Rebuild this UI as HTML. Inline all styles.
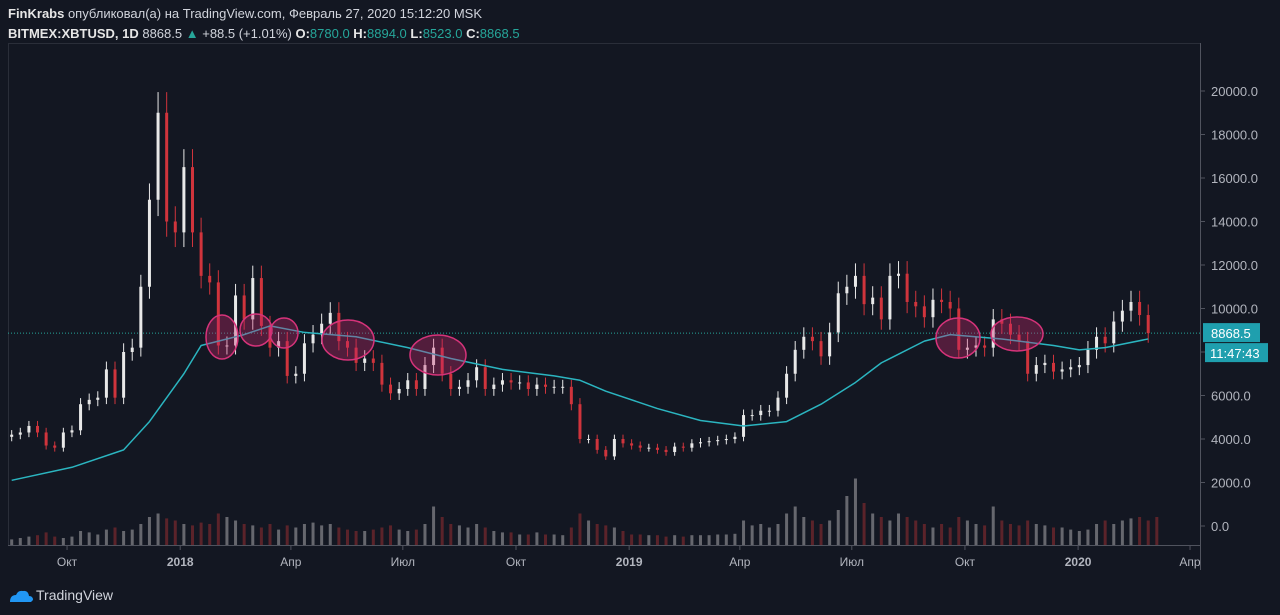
<!DOCTYPE html>
<html><head><meta charset="utf-8">
<style>
body{margin:0;background:#131722;width:1280px;height:615px;overflow:hidden;font-family:"Liberation Sans","Noto Sans CJK SC",sans-serif;}
#hdr{position:absolute;left:8px;top:4px;color:#d1d4dc;font-size:13px;line-height:20px;}
#hdr b{color:#e6e6e6}
.g{color:#26a69a}
svg{position:absolute;left:0;top:0}
</style></head><body>
<div id="hdr">
<div><b>FinKrabs</b> опубликовал(а) на TradingView.com, Февраль 27, 2020 15:12:20 MSK</div>
<div><b>BITMEX:XBTUSD, 1D</b> 8868.5 <span class="g">▲</span> +88.5 (+1.01%) <b>O:</b><span class="g">8780.0</span> <b>H:</b><span class="g">8894.0</span> <b>L:</b><span class="g">8523.0</span> <b>C:</b><span class="g">8868.5</span></div>
</div>
<svg id="c" width="1280" height="615"></svg>
<script>
const closes=[4200,4300,4600,4300,3700,3600,4300,4400,5600,5800,5900,7200,5900,8000,8200,11000,15000,19000,14000,13500,
16500,13500,11500,11200,8300,8300,10600,9500,11400,9200,8200,8500,6900,7000,8400,8800,9300,9800,8500,8200,7500,7700,7500,6500,6100,6300,6700,6300,7400,8200,7000,6300,6400,6700,7300,6300,6500,6700,6600,6600,6300,6500,6400,6400,6400,5600,4000,4000,3500,3200,4000,3800,3700,
3600,3600,3500,3400,3650,3600,3800,3850,3900,3950,4000,4100,5100,5100,5300,5300,5900,7000,8100,8700,8500,7800,8900,10700,11000,11500,10200,10500,9500,11500,11600,10300,10100,9600,10400,10300,10000,8100,8200,8300,8200,9500,9300,8800,8500,7000,7400,7500,7100,7200,7300,7400,
8100,8700,8400,9400,9900,10300,9700,8868.5];
const firstOpen=4100;
const maWeeks=[0,7,13,16,20,22,27,30,34,40,46,51,57,63,66,69,75,80,85,90,94,98,101,106,109,115,121,124,127,132];
const maValues=[2100,2700,3500,4800,7000,8300,8800,9200,8900,8700,8200,7700,7200,6900,6700,6200,5400,4850,4600,4800,5600,6600,7500,8500,8800,8600,8300,8100,8200,8600];
const volumes=[8,10,12,14,18,12,10,12,20,18,15,22,25,20,22,30,40,45,38,35,30,28,32,30,45,40,35,30,28,25,30,22,28,25,30,32,28,30,25,22,20,20,22,25,28,22,20,22,30,55,40,30,28,25,30,25,20,18,18,15,15,18,15,15,14,25,45,35,30,28,25,20,15,
15,14,14,12,14,12,14,14,14,15,15,16,35,28,30,25,30,45,55,40,35,30,35,50,70,95,60,45,40,35,45,40,35,30,25,30,25,40,35,30,28,55,35,30,28,35,30,28,25,25,22,20,22,30,35,30,35,38,40,35,40];
const priceTicks=[0,2000,4000,6000,8000,10000,12000,14000,16000,18000,20000];
const timeLabels=["Окт","2018","Апр","Июл","Окт","2019","Апр","Июл","Окт","2020","Апр"];
const timeDays=[48,140,230,321,413,505,595,686,778,870,961];
const ellipses=[[222,337,16,22],[256,330,16,16],[284,333,14,15],[348,340,26,20],[438,355,28,20],[958,338,22,20],[1017,334,26,17]];

const svg=document.getElementById('c');
const NS='http://www.w3.org/2000/svg';
function el(t,a,p){const e=document.createElementNS(NS,t);for(const k in a)e.setAttribute(k,a[k]);(p||svg).appendChild(e);return e;}
const yP=v=>526-v*0.02175;
const xD=d=>8+d*1.23;
const xW=i=>xD(i*7+3);
const yV=v=>545-v*0.7;

let f=el('rect',{x:8.5,y:43.5,width:1192,height:502,fill:'none',stroke:'#2a2e39'});

f=el('line',{x1:8,y1:545.5,x2:1200,y2:545.5,stroke:'#50535e'});

f=el('line',{x1:1200.5,y1:43,x2:1200.5,y2:570,stroke:'#50535e'});


volumes.forEach((v,i)=>{
  const up=closes[i]>=(i?closes[i-1]:firstOpen);
  const r=el('rect',{x:xW(i)-1.5,y:yV(v),width:3,height:545-yV(v),fill:up?'#8a8a8e':'#7a2a2e',opacity:0.7});
  
  
});

priceTicks.forEach(v=>{
  const t=el('text',{x:1211,y:yP(v)+5,fill:'#b2b5be','font-size':13});
  t.textContent=v.toFixed(1);
  
  
  el('line',{x1:1200,y1:yP(v),x2:1205,y2:yP(v),stroke:'#50535e'});
});
timeLabels.forEach((s,i)=>{
  const t=el('text',{x:xD(timeDays[i]),y:566,fill:'#b2b5be','font-size':12,'text-anchor':'middle','font-weight':(s.length==4&&s[0]=='2')?'bold':'normal'});
  t.textContent=s;
  
  
  el('line',{x1:xD(timeDays[i]),y1:545,x2:xD(timeDays[i]),y2:550,stroke:'#50535e'});
});

const last=closes[closes.length-1];
f=el('line',{x1:8,y1:yP(last),x2:1200,y2:yP(last),stroke:'#26a69a','stroke-dasharray':'1,2'});


closes.forEach((c,i)=>{
  const o=i?closes[i-1]:firstOpen;
  const up=c>=o;const col=up?'#e8e8e8':'#d0343c';
  const hi=Math.max(o,c)*1.05,lo=Math.min(o,c)*0.95;
  const w=el('line',{x1:xW(i),y1:yP(hi),x2:xW(i),y2:yP(lo),stroke:col,'stroke-width':1});
  
  
  const b=el('rect',{x:xW(i)-1.5,y:yP(Math.max(o,c)),width:3,height:Math.max(1,Math.abs(yP(o)-yP(c))),fill:col});
  
  
});

const ma=el('polyline',{points:maWeeks.map((w,i)=>xW(w)+','+yP(maValues[i])).join(' '),fill:'none',stroke:'#2bb5c0','stroke-width':1.5,'stroke-linejoin':'round'});



ellipses.forEach(e=>{
  const E=el('ellipse',{cx:e[0],cy:e[1],rx:e[2],ry:e[3],fill:'rgba(200,40,110,0.35)',stroke:'#d6337a','stroke-width':1.5});
  
  
});

let r=el('rect',{x:1203,y:yP(last)-10,width:57,height:19,fill:'#1f9fae'});

let t=el('text',{x:1211,y:yP(last)+5,fill:'#fff','font-size':13});t.textContent=last.toFixed(1);

r=el('rect',{x:1205,y:yP(last)+10,width:63,height:19,fill:'#1f9fae'});

t=el('text',{x:1210,y:yP(last)+25,fill:'#fff','font-size':13});t.textContent='11:47:43';


const lg=el('path',{d:'M10 602 q0-7 6-7 q2-5 7-4 q5-1 6 5 q4 0 4 4 l-2 2 z',fill:'#2196f3'});

t=el('text',{x:36,y:600,fill:'#d1d4dc','font-size':14});t.textContent='TradingView';

</script>
</body></html>
